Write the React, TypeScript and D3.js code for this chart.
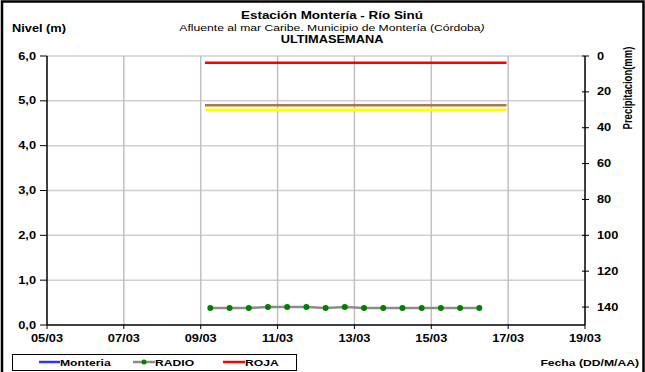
import React from "react";
import * as d3 from "d3";

const W = 645;
const H = 372;

const xDomain = ["2013-03-05T00:00", "2013-03-19T00:00"];
const xTickDates = ["2013-03-05", "2013-03-07", "2013-03-09", "2013-03-11", "2013-03-13", "2013-03-15", "2013-03-17", "2013-03-19"];
const leftTicks = [0, 1, 2, 3, 4, 5, 6];
const rightTicks = [0, 20, 40, 60, 80, 100, 120, 140];

const radioTimes = [
  "2013-03-09T06:00", "2013-03-09T18:00", "2013-03-10T06:00", "2013-03-10T18:00",
  "2013-03-11T06:00", "2013-03-11T18:00", "2013-03-12T06:00", "2013-03-12T18:00",
  "2013-03-13T06:00", "2013-03-13T18:00", "2013-03-14T06:00", "2013-03-14T18:00",
  "2013-03-15T06:00", "2013-03-15T18:00", "2013-03-16T06:00",
];
const radioLevels = [0.38, 0.38, 0.38, 0.4, 0.4, 0.4, 0.38, 0.4, 0.38, 0.38, 0.38, 0.38, 0.38, 0.38, 0.38];

const thresholdStart = "2013-03-09T02:40";
const thresholdEnd = "2013-03-16T23:00";
const thresholdNames = ["ROJA", "NARANJA", "AMARILLA"];
const thresholdLevels = [5.85, 4.9, 4.8];
const thresholdColors = ["#ff0000", "#a87850", "#ffff00"];

const legendNames = ["Monteria", "RADIO", "ROJA"];

const parse = (s: string) => new Date(s);
const SX = 1.28;

function T(props: { x: number; y: number; size: number; anchor?: string; bold?: boolean; children: React.ReactNode; rotate?: boolean }) {
  const { x, y, size, anchor = "start", bold = true, children, rotate } = props;
  return (
    <text
      transform={`translate(${x},${y}) scale(${SX},1)${rotate ? " rotate(-90)" : ""}`}
      textAnchor={anchor}
      fontSize={size}
      fontWeight={bold ? "bold" : "normal"}
    >
      {children}
    </text>
  );
}

export default function App() {
  const m = { left: 47, right: 585, top: 56, bottom: 325 };
  const x = d3.scaleTime().domain(xDomain.map(parse)).range([m.left, m.right]);
  const y = d3.scaleLinear().domain([0, 6]).range([m.bottom, m.top]);
  const y2 = d3.scaleLinear().domain([0, 150]).range([m.top, m.bottom]);
  const fmtX = d3.timeFormat("%d/%m");
  const fmtY = (v: number) => d3.format(".1f")(v).replace(".", ",");

  const radioPts = radioTimes.map((t, i) => [x(parse(t)), y(radioLevels[i])] as [number, number]);
  const line = d3.line();

  const font = "'Liberation Sans', Arial, sans-serif";

  return (
    <svg width={W} height={H} style={{ position: "absolute", left: 0, top: 0, fontFamily: font }}>
      <rect x={0} y={0} width={W} height={H} fill="#fff" />
      <rect x={2} y={1.5} width={W - 3.5} height={H + 10} fill="none" stroke="#000" strokeWidth={2.5} />

      {/* grid */}
      {leftTicks.slice(1).map((v) => (
        <line key={"hg" + v} x1={m.left} x2={m.right} y1={y(v)} y2={y(v)} stroke="#cfcfcf" strokeWidth={1.5} />
      ))}
      {xTickDates.slice(1, -1).map((d) => (
        <line key={"vg" + d} x1={x(parse(d))} x2={x(parse(d))} y1={m.top} y2={m.bottom} stroke="#c0c0c0" strokeWidth={1.5} />
      ))}

      {/* axes */}
      <line x1={m.left} x2={m.left} y1={m.top} y2={m.bottom} stroke="#000" strokeWidth={1.5} />
      <line x1={m.left} x2={m.right} y1={m.bottom} y2={m.bottom} stroke="#000" strokeWidth={1.5} />
      <line x1={m.right} x2={m.right} y1={m.top} y2={m.bottom} stroke="#000" strokeWidth={1.5} />

      {leftTicks.map((v) => (
        <g key={"lt" + v}>
          <line x1={m.left - 7} x2={m.left} y1={y(v)} y2={y(v)} stroke="#000" strokeWidth={1} />
          <T x={m.left - 11} y={y(v) + 3.5} size={10} anchor="end">{fmtY(v)}</T>
        </g>
      ))}
      {rightTicks.map((v) => (
        <g key={"rt" + v}>
          <line x1={m.right - 3} x2={m.right + 4} y1={y2(v)} y2={y2(v)} stroke="#000" strokeWidth={1} />
          <T x={m.right + 12} y={y2(v) + 3.5} size={10}>{v}</T>
        </g>
      ))}
      {xTickDates.map((d) => (
        <g key={"xt" + d}>
          <line x1={x(parse(d))} x2={x(parse(d))} y1={m.bottom} y2={m.bottom + 4} stroke="#000" strokeWidth={1} />
          <T x={x(parse(d))} y={m.bottom + 17} size={10} anchor="middle">{fmtX(parse(d))}</T>
        </g>
      ))}

      {/* thresholds */}
      {thresholdLevels.map((v, i) => (
        <line key={thresholdNames[i]} x1={x(parse(thresholdStart))} x2={x(parse(thresholdEnd))} y1={y(v)} y2={y(v)} stroke={thresholdColors[i]} strokeWidth={2.5} />
      ))}

      {/* radio series */}
      <path d={line(radioPts) || ""} fill="none" stroke="#8c8c8c" strokeWidth={2.5} />
      {radioPts.map((p, i) => (
        <circle key={"p" + i} cx={p[0]} cy={p[1]} r={3} fill="#008000" />
      ))}

      {/* titles */}
      <T x={332} y={19} size={10.5} anchor="middle">Estación Montería  - Río Sinú</T>
      <T x={332} y={31} size={9.5} anchor="middle" bold={false}>Afluente al mar Caribe. Municipio de Montería (Córdoba<tspan fontStyle="italic">)</tspan></T>
      <T x={332} y={43} size={10} anchor="middle">ULTIMASEMANA</T>
      <T x={12} y={32} size={10}>Nivel (m)</T>
      <T x={632} y={88} size={9.5} anchor="middle" rotate>Precipitacion(mm)</T>
      <T x={639} y={366} size={9.5} anchor="end">Fecha (DD/M/AA)</T>

      {/* legend */}
      <rect x={12.5} y={354.5} width={284} height={16} fill="#fff" stroke="#000" strokeWidth={1} />
      <line x1={39} x2={60} y1={362} y2={362} stroke="#3333ff" strokeWidth={2.5} />
      <T x={60} y={366} size={9.5}>{legendNames[0]}</T>
      <line x1={133} x2={155} y1={362} y2={362} stroke="#8c8c8c" strokeWidth={2.5} />
      <circle cx={144} cy={362} r={2.5} fill="#008000" />
      <T x={155} y={366} size={9.5}>{legendNames[1]}</T>
      <line x1={223} x2={245} y1={362} y2={362} stroke="#ff0000" strokeWidth={2.5} />
      <T x={245} y={366} size={9.5}>{legendNames[2]}</T>
    </svg>
  );
}
